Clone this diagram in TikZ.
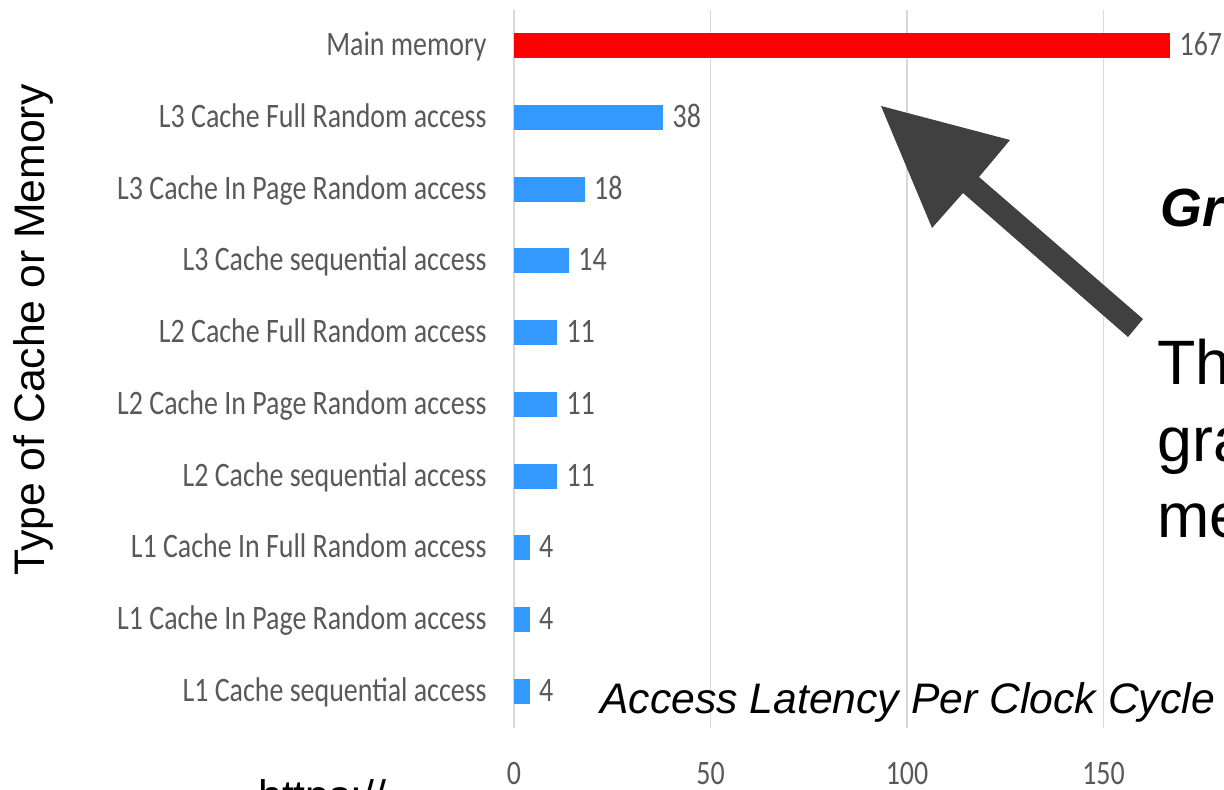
\documentclass[tikz,border=0pt]{standalone}
\usepackage{fontspec}
\setmainfont{Liberation Sans}
\newfontfamily\calib{Carlito}
\definecolor{barred}{HTML}{FF0000}
\definecolor{barblue}{HTML}{3399FF}
\definecolor{gridgrey}{HTML}{D9D9D9}
\definecolor{txtgrey}{HTML}{595959}
\definecolor{arrowgrey}{HTML}{404040}
\newcommand{\cz}[1]{\scalebox{0.815}[1]{#1}}
\tikzset{
  catlabel/.style={anchor=base east, inner sep=0pt, text=txtgrey, font=\calib\fontsize{19.5}{22}\selectfont},
  vallabel/.style={anchor=base west, inner sep=0pt, text=txtgrey, font=\calib\fontsize{19.5}{22}\selectfont},
  ticklabel/.style={anchor=base, inner sep=0pt, text=txtgrey, font=\calib\fontsize{19.5}{22}\selectfont},
  gridline/.style={draw=gridgrey, line width=0.6pt},
  titletext/.style={inner sep=0pt, text=black, font=\fontsize{24.3}{28}\selectfont},
  bigtext/.style={anchor=base west, inner sep=0pt, text=black, font=\fontsize{35.7}{42}\selectfont},
}
\begin{document}
\begin{tikzpicture}[x=0.02cm, y=-0.02cm]
\useasboundingbox (0,0) rectangle (1224,790);
\clip (0,0) rectangle (1224,790);
\fill[white] (0,0) rectangle (1224,790);
% grid lines and tick labels
\foreach \v/\n in {0/g0, 50/g50, 100/g100, 150/g150} {
  \draw[gridline] ({514+3.93*\v},10) -- ({514+3.93*\v},728);
  \node[ticklabel] (\n) at ({514+3.93*\v},784) {\cz{\v}};
}
% bars
\foreach \i/\val/\lab/\col in {
  0/167/Main memory/barred,
  1/38/L3 Cache Full Random access/barblue,
  2/18/L3 Cache In Page Random access/barblue,
  3/14/L3 Cache sequential access/barblue,
  4/11/L2 Cache Full Random access/barblue,
  5/11/L2 Cache In Page Random access/barblue,
  6/11/L2 Cache sequential access/barblue,
  7/4/L1 Cache In Full Random access/barblue,
  8/4/L1 Cache In Page Random access/barblue,
  9/4/L1 Cache sequential access/barblue} {
  \pgfmathsetmacro{\yc}{45.5+71.78*\i}
  \fill[\col] (514,{\yc-12.5}) rectangle ({514+3.93*\val},{\yc+12.5});
  \node[catlabel] (lab\i) at (487,{\yc+10}) {\cz{\lab}};
  \node[vallabel] (val\i) at ({514+3.93*\val+9},{\yc+10}) {\cz{\val}};
}
% axis titles
\node[titletext, rotate=90] (ytitle) at (33,330) {Type of Cache or Memory};
\node[titletext, anchor=base west, font=\itshape\fontsize{24.3}{28}\selectfont] (xtitle) at (600,713) {Access Latency Per Clock Cycle};
% annotation arrow
\fill[arrowgrey] (881,106) -- (1010,140) -- (979,177) -- (1143,319) -- (1128,337) -- (963,193) -- (932,228) -- cycle;
% right-hand text (cut off by the picture edge)
\node[anchor=base west, inner sep=0pt, font=\bfseries\itshape\fontsize{30.6}{36}\selectfont] (gr) at (1160,227) {Gr};
\node[bigtext] (th) at (1157,385) {Th};
\node[bigtext] (gra) at (1157,461) {gra};
\node[bigtext] (me) at (1157,537) {me};
% url at bottom
\node[anchor=base west, inner sep=0pt, font=\fontsize{24.3}{28}\selectfont] (url) at (258,810) {https://};
\end{tikzpicture}
\end{document}
